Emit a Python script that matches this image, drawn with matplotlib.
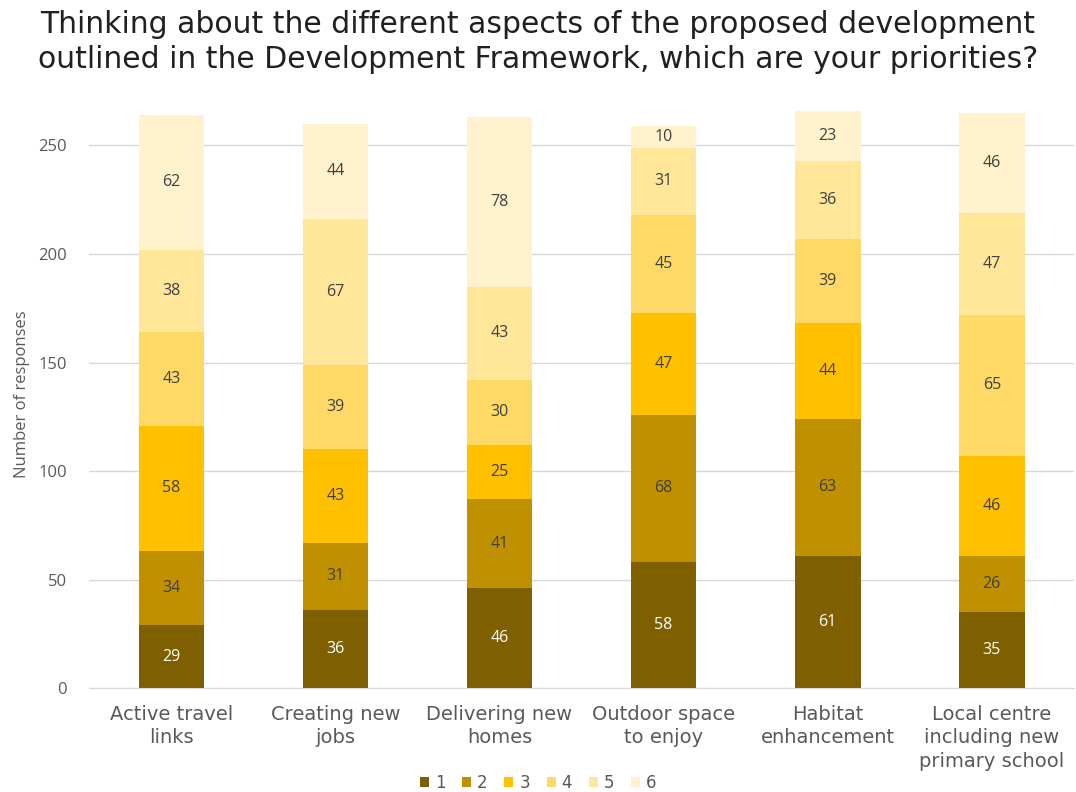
import numpy as np
import matplotlib
matplotlib.use('Agg')
import matplotlib.pyplot as plt

# --- data ---
categories = ['Active travel\nlinks', 'Creating new\njobs', 'Delivering new\nhomes',
              'Outdoor space\nto enjoy', 'Habitat\nenhancement',
              'Local centre\nincluding new\nprimary school']
rank_labels = ['1', '2', '3', '4', '5', '6']
rank1 = [29, 36, 46, 58, 61, 35]
rank2 = [34, 31, 41, 68, 63, 26]
rank3 = [58, 43, 25, 47, 44, 46]
rank4 = [43, 39, 30, 45, 39, 65]
rank5 = [38, 67, 43, 31, 36, 47]
rank6 = [62, 44, 78, 10, 23, 46]

colors = ['#7F6000', '#BF9000', '#FFC000', '#FFD966', '#FFE699', '#FFF2CC']
label_colors = ['white', '#404040', '#404040', '#404040', '#404040', '#404040']

fig = plt.figure(figsize=(10.76, 7.92), dpi=100)
ax = fig.add_axes([0.083, 0.131, 0.915, 0.743])

x = np.arange(len(categories))
bottom = np.zeros(len(categories))
series = [rank1, rank2, rank3, rank4, rank5, rank6]
for vals, col, lcol, lab in zip(series, colors, label_colors, rank_labels):
    vals = np.array(vals)
    bars = ax.bar(x, vals, 0.4, bottom=bottom, color=col, label=lab, zorder=3)
    ax.bar_label(bars, labels=[str(v) for v in vals], label_type='center',
                 color=lcol, fontsize=11.5, family='Open Sans')
    bottom += vals

ax.set_xlim(-0.5, len(categories) - 0.5)
ax.set_ylim(0, 271)
ax.set_yticks(range(0, 251, 50))
ax.yaxis.grid(True, color='#D9D9D9', linewidth=1, zorder=0)
ax.tick_params(axis='y', length=0, labelsize=12, labelcolor='#595959', pad=16)
ax.tick_params(axis='x', length=0, pad=12)
ax.set_xticks(x)
ax.set_xticklabels(categories, fontsize=14, color='#595959', family='DejaVu Sans',
                   va='top', linespacing=1.3)
for lbl in ax.get_yticklabels():
    lbl.set_family('Open Sans')
for s in ['top', 'right', 'left']:
    ax.spines[s].set_visible(False)
ax.spines['bottom'].set_color('#D9D9D9')
ax.set_ylabel('Number of responses', fontsize=12, color='#595959', family='Open Sans',
              labelpad=6)

fig.suptitle('Thinking about the different aspects of the proposed development\n'
             'outlined in the Development Framework, which are your priorities?',
             fontsize=21.5, family='DejaVu Sans', color='#202020', y=0.988, linespacing=1.3)

fig.legend(loc='lower center', ncol=6, frameon=False, fontsize=12,
           bbox_to_anchor=(0.5, -0.019), handlelength=0.55, handleheight=0.55,
           columnspacing=1.0, handletextpad=0.35, labelcolor='#595959')

fig.savefig('out.png', dpi=100)
